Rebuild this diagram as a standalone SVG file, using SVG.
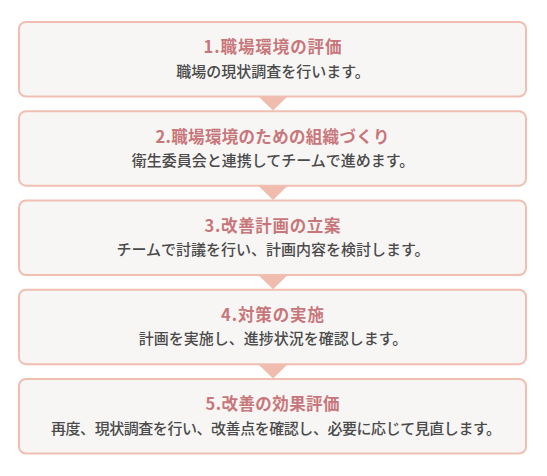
<svg xmlns="http://www.w3.org/2000/svg" width="547" height="476" viewBox="0 0 547 476">
<style>
.box{fill:#f7f6f5;stroke:#f1bfb1;stroke-width:2}
.title{font-family:"Noto Sans CJK JP","Noto Sans",sans-serif;font-weight:bold;font-size:16.5px;fill:#c8767a;text-anchor:middle}
.sub{font-family:"Noto Sans CJK JP","Noto Sans",sans-serif;font-size:15px;font-weight:500;fill:#4a4a4a;text-anchor:middle}
.tri{fill:#efbcae}
</style>
<rect width="547" height="476" fill="#ffffff"/>
<g id="connectors">
<polygon class="tri" points="258,96 288,96 273,110.5"/>
<polygon class="tri" points="258,185.5 288,185.5 273,200"/>
<polygon class="tri" points="258,274.7 288,274.7 273,289.2"/>
<polygon class="tri" points="258,364 288,364 273,378.5"/>
</g>
<g id="step1">
<rect class="box" x="19" y="22" width="507" height="74.5" rx="7"/>
<text class="title" x="272.5" y="53.3" textLength="138" lengthAdjust="spacing">1.職場環境の評価</text>
<text class="sub" x="273" y="76.7">職場の現状調査を行います。</text>
</g>
<g id="step2">
<rect class="box" x="19" y="111.2" width="507" height="74.5" rx="7"/>
<text class="title" x="272.5" y="142.5" textLength="234" lengthAdjust="spacing">2.職場環境のための組織づくり</text>
<text class="sub" x="273" y="165.9">衛生委員会と連携してチームで進めます。</text>
</g>
<g id="step3">
<rect class="box" x="19" y="200.5" width="507" height="74.5" rx="7"/>
<text class="title" x="272.5" y="231.8" textLength="136" lengthAdjust="spacing">3.改善計画の立案</text>
<text class="sub" x="273" y="255.2">チームで討議を行い、計画内容を検討します。</text>
</g>
<g id="step4">
<rect class="box" x="19" y="289.7" width="507" height="74.5" rx="7"/>
<text class="title" x="272.5" y="321" textLength="103" lengthAdjust="spacing">4.対策の実施</text>
<text class="sub" x="273" y="344.4">計画を実施し、進捗状況を確認します。</text>
</g>
<g id="step5">
<rect class="box" x="19" y="379" width="507" height="74.5" rx="7"/>
<text class="title" x="272.5" y="410.3" textLength="134" lengthAdjust="spacing">5.改善の効果評価</text>
<text class="sub" x="276" y="433.7" textLength="450" lengthAdjust="spacing">再度、現状調査を行い、改善点を確認し、必要に応じて見直します。</text>
</g>
</svg>
